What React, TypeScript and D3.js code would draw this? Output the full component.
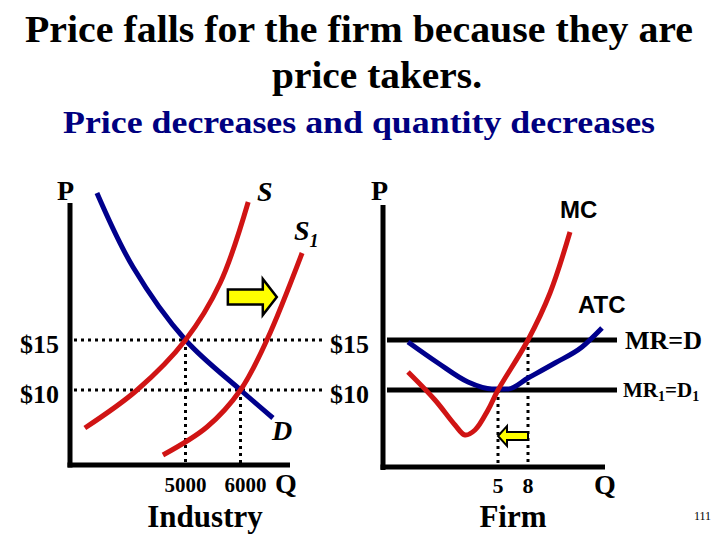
import React from "react";
import * as d3 from "d3";

// ---------- data ----------
const titleLines = ["Price falls for the firm because they are", "price takers."];
const subtitle = "Price decreases and quantity decreases";

const prices = [15, 10];
const priceLabels = ["$15", "$10"];

// Industry
const industryQ = [5000, 6000];
const industryQLabels = ["5000", "6000"];
const demandQ = [3390, 4045, 5000, 6000, 6590];
const demandP = [29.7, 22.3, 15, 10, 7.2];
const supplyQ = [3170, 4120, 5000, 5630, 6140];
const supplyP = [6.2, 10, 15, 20.7, 28.8];
const supply1Q = [4590, 5390, 6000, 6480, 7120];
const supply1P = [3.5, 6.3, 10, 15, 23.7];
const shiftArrowQ = [5770, 6660];
const shiftArrowP = 19.3;

// Firm
const firmQ = [5, 8];
const firmQLabels = ["5", "8"];
const mcQ = [-4.0, -1.3, 0.7, 1.7, 2.7, 4.0, 5, 8, 10.2, 12.2];
const mcP = [11.8, 9.0, 6.5, 5.5, 6.0, 8.0, 10, 15, 19.7, 25.8];
const atcQ = [-4.0, -1.0, 2.0, 4.4, 6.0, 8.0, 10.7, 13.4, 15.4];
const atcP = [14.8, 12.7, 10.8, 10.1, 10.1, 11.2, 12.7, 14.3, 16.2];
const mrQ = [-6.1, 16.9];
const firmArrowQ = [8, 5];
const firmArrowP = 5.4;

// ---------- styles ----------
const SERIF = "'Liberation Serif', 'Times New Roman', serif";
const SANS = "'Liberation Sans', Arial, sans-serif";
const RED = "#d01414";
const BLUE = "#00008c";
const NAVY = "#000080";

export default function App() {
  const lq = d3.scaleLinear().domain([2900, 6900]).range([70, 290]);
  const lp = d3.scaleLinear().domain([2.5, 28.7]).range([465, 203]);
  const rq = d3.scaleLinear().domain([-6.5, 15.7]).range([383, 605]);
  const rp = d3.scaleLinear().domain([2.3, 28.5]).range([467, 205]);

  const lineL = d3
    .line<[number, number]>()
    .x((d) => lq(d[0]))
    .y((d) => lp(d[1]))
    .curve(d3.curveCatmullRom.alpha(0.5));
  const lineR = d3
    .line<[number, number]>()
    .x((d) => rq(d[0]))
    .y((d) => rp(d[1]))
    .curve(d3.curveCatmullRom.alpha(0.5));
  const lineRM = d3
    .line<[number, number]>()
    .x((d) => rq(d[0]))
    .y((d) => rp(d[1]))
    .curve(d3.curveMonotoneX);

  const zip = (a: number[], b: number[]) => a.map((v, i) => [v, b[i]] as [number, number]);

  const dotted = { stroke: "#000", strokeWidth: 3, strokeDasharray: "3,4" };

  // arrow right (industry)
  const ax0 = lq(shiftArrowQ[0]);
  const ax1 = lq(shiftArrowQ[1]);
  const ay = lp(shiftArrowP);
  const headL = 14;
  const rightArrow = [
    [ax0, ay - 7.5],
    [ax1 - headL, ay - 7.5],
    [ax1 - headL, ay - 18],
    [ax1, ay],
    [ax1 - headL, ay + 18],
    [ax1 - headL, ay + 7.5],
    [ax0, ay + 7.5],
  ];
  // arrow left (firm)
  const bx0 = rq(firmArrowQ[0]);
  const bx1 = rq(firmArrowQ[1]);
  const by = rp(firmArrowP);
  const headS = 9;
  const leftArrow = [
    [bx0, by - 4],
    [bx1 + headS, by - 4],
    [bx1 + headS, by - 10],
    [bx1, by],
    [bx1 + headS, by + 10],
    [bx1 + headS, by + 4],
    [bx0, by + 4],
  ];

  return (
    <svg
      width={720}
      height={540}
      style={{ position: "absolute", left: 0, top: 0, background: "#fff" }}
    >
      {/* titles */}
      <text x={25} y={42} fontFamily={SERIF} fontWeight="bold" fontSize={37} textLength={668} lengthAdjust="spacingAndGlyphs">
        {titleLines[0]}
      </text>
      <text x={272} y={88} fontFamily={SERIF} fontWeight="bold" fontSize={37} textLength={210} lengthAdjust="spacingAndGlyphs">
        {titleLines[1]}
      </text>
      <text x={63} y={133} fontFamily={SERIF} fontWeight="bold" fontSize={31} fill={NAVY} textLength={592} lengthAdjust="spacingAndGlyphs">
        {subtitle}
      </text>

      {/* ---------- Industry ---------- */}
      {prices.map((p) => (
        <line key={"lh" + p} x1={lq.range()[0] + 4} x2={325} y1={lp(p)} y2={lp(p)} {...dotted} />
      ))}
      {industryQ.map((q, i) => (
        <line key={"lv" + q} x1={lq(q)} x2={lq(q)} y1={lp(prices[i])} y2={lp.range()[0]} {...dotted} />
      ))}
      <path d={lineL(zip(demandQ, demandP)) || ""} fill="none" stroke={BLUE} strokeWidth={5} />
      <path d={lineL(zip(supplyQ, supplyP)) || ""} fill="none" stroke={RED} strokeWidth={5} />
      <path d={lineL(zip(supply1Q, supply1P)) || ""} fill="none" stroke={RED} strokeWidth={5} />
      <polygon points={rightArrow.map((p) => p.join(",")).join(" ")} fill="#ffff00" stroke="#000" strokeWidth={2.5} />
      {/* axes */}
      <line x1={lq.range()[0]} x2={lq.range()[0]} y1={lp.range()[1]} y2={lp.range()[0] + 2.5} stroke="#000" strokeWidth={5} />
      <line x1={lq.range()[0] - 2.5} x2={lq.range()[1]} y1={lp.range()[0]} y2={lp.range()[0]} stroke="#000" strokeWidth={5} />
      {prices.map((p, i) => (
        <text key={"lpl" + p} x={20} y={lp(p) + 13} fontFamily={SERIF} fontWeight="bold" fontSize={26}>
          {priceLabels[i]}
        </text>
      ))}
      {industryQ.map((q, i) => (
        <text key={"lql" + q} x={lq(q) + (i === 0 ? 0 : 5)} y={492} textAnchor="middle" fontFamily={SERIF} fontWeight="bold" fontSize={21}>
          {industryQLabels[i]}
        </text>
      ))}
      <text x={57} y={200} fontFamily={SERIF} fontWeight="bold" fontSize={28}>P</text>
      <text x={275} y={493} fontFamily={SERIF} fontWeight="bold" fontSize={28}>Q</text>
      <text x={257} y={201} fontFamily={SERIF} fontWeight="bold" fontStyle="italic" fontSize={28}>S</text>
      <text x={294} y={240} fontFamily={SERIF} fontWeight="bold" fontStyle="italic" fontSize={28}>
        S<tspan fontSize={18} dy={7}>1</tspan>
      </text>
      <text x={272} y={440} fontFamily={SERIF} fontWeight="bold" fontStyle="italic" fontSize={28}>D</text>
      <text x={205} y={527} textAnchor="middle" fontFamily={SERIF} fontWeight="bold" fontSize={31}>Industry</text>

      {/* ---------- Firm ---------- */}
      {firmQ.map((q, i) => (
        <line key={"rv" + q} x1={rq(q)} x2={rq(q)} y1={rp(prices[1 - i])} y2={rp.range()[0]} {...dotted} />
      ))}
      {prices.map((p) => (
        <line key={"mr" + p} x1={rq(mrQ[0])} x2={rq(mrQ[1])} y1={rp(p)} y2={rp(p)} stroke="#000" strokeWidth={5} />
      ))}
      <path d={lineRM(zip(atcQ, atcP)) || ""} fill="none" stroke={BLUE} strokeWidth={5} />
      <path d={lineR(zip(mcQ, mcP)) || ""} fill="none" stroke={RED} strokeWidth={5} />
      <polygon points={leftArrow.map((p) => p.join(",")).join(" ")} fill="#ffff00" stroke="#000" strokeWidth={2} />
      <line x1={rq.range()[0]} x2={rq.range()[0]} y1={rp.range()[1]} y2={rp.range()[0] + 3} stroke="#000" strokeWidth={5} />
      <line x1={rq.range()[0] - 2.5} x2={rq.range()[1]} y1={rp.range()[0]} y2={rp.range()[0]} stroke="#000" strokeWidth={5} />
      {prices.map((p, i) => (
        <text key={"rpl" + p} x={330} y={rp(p) + 13} fontFamily={SERIF} fontWeight="bold" fontSize={26}>
          {priceLabels[i]}
        </text>
      ))}
      {firmQ.map((q, i) => (
        <text key={"rql" + q} x={rq(q)} y={493} textAnchor="middle" fontFamily={SERIF} fontWeight="bold" fontSize={22}>
          {firmQLabels[i]}
        </text>
      ))}
      <text x={371} y={200} fontFamily={SERIF} fontWeight="bold" fontSize={28}>P</text>
      <text x={594} y={494} fontFamily={SERIF} fontWeight="bold" fontSize={28}>Q</text>
      <text x={560} y={218} fontFamily={SANS} fontWeight="bold" fontSize={24}>MC</text>
      <text x={578} y={313} fontFamily={SANS} fontWeight="bold" fontSize={24}>ATC</text>
      <text x={625} y={349} fontFamily={SERIF} fontWeight="bold" fontSize={26}>MR=D</text>
      <text x={623} y={397} fontFamily={SERIF} fontWeight="bold" fontSize={21}>
        MR<tspan fontSize={14} dy={4}>1</tspan>
        <tspan dy={-4}>=D</tspan>
        <tspan fontSize={14} dy={4}>1</tspan>
      </text>
      <text x={513} y={527} textAnchor="middle" fontFamily={SERIF} fontWeight="bold" fontSize={31}>Firm</text>
      <text x={694} y={520} fontFamily={SERIF} fontSize={12}>111</text>
    </svg>
  );
}
